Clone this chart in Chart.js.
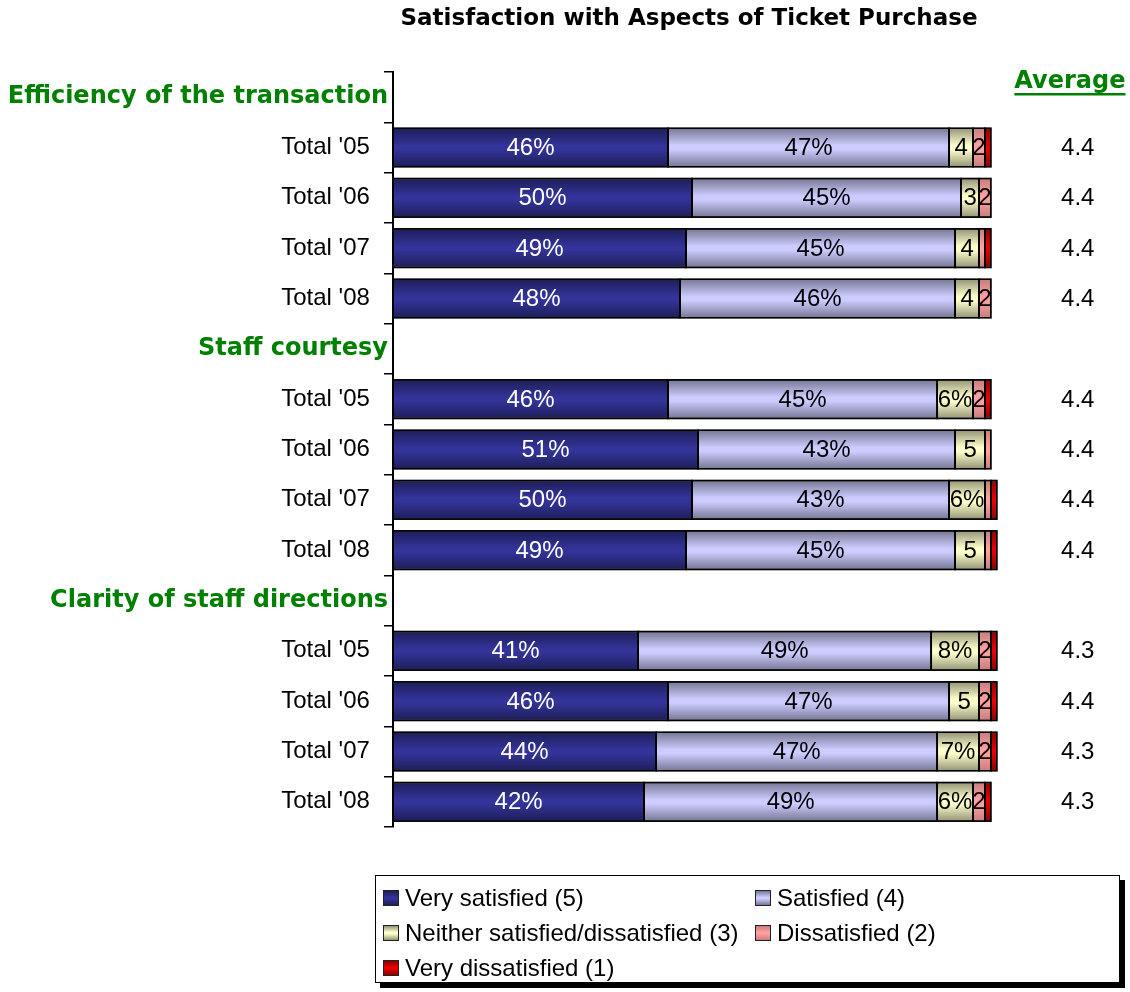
<!DOCTYPE html>
<html><head><meta charset="utf-8">
<script src="https://cdn.jsdelivr.net/npm/chart.js@4/dist/chart.umd.min.js"></script>
<style>
body{margin:0;background:#fff}
#wrap{position:relative;width:1130px;height:992px}
#legend{position:absolute;left:375px;top:875px;width:745px;height:108px;border:1px solid #000;box-shadow:5px 5px 0 #000;background:#fff;
  display:grid;grid-template-columns:372px auto;grid-auto-rows:35px;padding-top:4px;box-sizing:border-box;font-family:"Liberation Sans",Arial,sans-serif;font-size:24px;color:#000}
#legend .it{display:flex;align-items:center;padding-left:7px;white-space:nowrap}
#legend .sw{width:14px;height:14px;border:1px solid #222;margin-right:6px;flex:none}
</style>
</head><body>
<div id="wrap"><canvas id="c" width="1130" height="992"></canvas><div id="legend"></div></div>
<script>
const chartTitle = "Satisfaction with Aspects of Ticket Purchase";
const averageHeader = "Average";
const categories = ["Efficiency of the transaction","Total '05","Total '06","Total '07","Total '08",
  "Staff courtesy","Total '05","Total '06","Total '07","Total '08",
  "Clarity of staff directions","Total '05","Total '06","Total '07","Total '08"];
const headerRows = [0,5,10];
const seriesNames = ["Very satisfied (5)","Satisfied (4)","Neither satisfied/dissatisfied (3)","Dissatisfied (2)","Very dissatisfied (1)"];
const verySatisfied    = [null,46,50,49,48,null,46,51,50,49,null,41,46,44,42];
const satisfied        = [null,47,45,45,46,null,45,43,43,45,null,49,47,47,49];
const neither          = [null,4,3,4,4,null,6,5,6,5,null,8,5,7,6];
const dissatisfied     = [null,2,2,1,2,null,2,1,1,1,null,2,2,2,2];
const veryDissatisfied = [null,1,0,1,0,null,1,0,1,1,null,1,1,1,1];
const averages = [null,"4.4","4.4","4.4","4.4",null,"4.4","4.4","4.4","4.4",null,"4.3","4.4","4.3","4.3"];

const seriesColors = ["#333399","#ccccff","#ffffcc","#ffa0a0","#e80000"];
const edgeShade = [0.42,0.42,0.42,0.22,0.4];
const labelColors = ["#ffffff","#000000","#000000","#000000","#000000"];
const seriesData = [verySatisfied,satisfied,neither,dissatisfied,veryDissatisfied];

const FONT_REG = '"Liberation Sans", Arial, sans-serif';
const FONT_BOLD = '"DejaVu Sans", Verdana, sans-serif';

const decorPlugin = {
  id:'decor',
  afterDatasetsDraw(chart){
    const ctx = chart.ctx;
    chart.data.datasets.forEach((ds,di)=>{
      const meta = chart.getDatasetMeta(di);
      const a = edgeShade[di];
      meta.data.forEach((el,i)=>{
        const v = ds.data[i];
        if(v==null || v===0) return;
        const p = el.getProps(['x','y','base','height'],true);
        const top = p.y - p.height/2, bot = p.y + p.height/2;
        const l = Math.min(p.x,p.base), r = Math.max(p.x,p.base);
        const g = ctx.createLinearGradient(0,top,0,bot);
        g.addColorStop(0,'rgba(0,0,0,'+a+')');
        g.addColorStop(0.45,'rgba(0,0,0,0)');
        g.addColorStop(0.55,'rgba(0,0,0,0)');
        g.addColorStop(1,'rgba(0,0,0,'+a+')');
        ctx.save();
        ctx.fillStyle = g;
        ctx.fillRect(l,top,r-l,bot-top);
        ctx.strokeStyle='#000'; ctx.lineWidth=1.5;
        ctx.strokeRect(l,top,r-l,bot-top);
        ctx.restore();
      });
    });
    ctx.save();
    ctx.font = '24px '+FONT_REG;
    ctx.textAlign='center'; ctx.textBaseline='middle';
    chart.data.datasets.forEach((ds,di)=>{
      const meta = chart.getDatasetMeta(di);
      meta.data.forEach((el,i)=>{
        const v = ds.data[i];
        if(v==null || v<2) return;
        const p = el.getProps(['x','y','base'],true);
        const txt = v>=6 ? v+'%' : String(v);
        ctx.fillStyle = labelColors[di];
        ctx.fillText(txt,(p.x+p.base)/2,p.y+1);
      });
    });
    ctx.restore();
  },
  afterDraw(chart){
    const ctx = chart.ctx, xs = chart.scales.x, ys = chart.scales.y;
    ctx.save();
    ctx.font = 'bold 23px '+FONT_BOLD;
    ctx.fillStyle='#000'; ctx.textAlign='center'; ctx.textBaseline='middle';
    ctx.fillText(chartTitle, xs.getPixelForValue(49.5), 19);
    ctx.font = 'bold 24px '+FONT_BOLD;
    ctx.fillStyle='#008000';
    const hx = xs.getPixelForValue(113.2), hy = ys.top + 10;
    ctx.fillText(averageHeader, hx, hy);
    const w = ctx.measureText(averageHeader).width;
    ctx.fillRect(hx-w/2, hy+11, w, 2.5);
    ctx.font = '24px '+FONT_REG;
    ctx.fillStyle='#000';
    averages.forEach((a,i)=>{
      if(a==null) return;
      ctx.fillText(a, xs.getPixelForValue(114.5), ys.getPixelForValue(i)+1);
    });
    ctx.restore();
  }
};

const chart = new Chart(document.getElementById('c'),{
  type:'bar',
  data:{
    labels:categories,
    datasets: seriesNames.map((n,i)=>({
      label:n, data:seriesData[i], backgroundColor:seriesColors[i],
      borderColor:'#000', borderWidth:1, borderSkipped:false,
      barPercentage:0.77, categoryPercentage:1
    }))
  },
  options:{
    indexAxis:'y',
    responsive:false,
    animation:false,
    layout:{padding:{top:72,bottom:165,left:0,right:19.4}},
    plugins:{legend:{display:false},tooltip:{enabled:false},title:{display:false}},
    scales:{
      x:{stacked:true,display:false,min:0,max:120},
      y:{stacked:true,offset:true,
        grid:{offset:true,drawOnChartArea:false,drawTicks:true,tickLength:9,color:'#000',lineWidth:1.5},
        border:{display:true,color:'#000',width:2},
        ticks:{autoSkip:false,padding:-4,
          callback:(v,i)=> headerRows.includes(i) ? categories[i] : categories[i]+'  \u2009',
          font:(c)=> headerRows.includes(c.index) ? {family:FONT_BOLD,size:24,weight:'bold'} : {family:FONT_REG,size:24},
          color:(c)=> headerRows.includes(c.index) ? '#008000' : '#000'
        },
        afterFit:(s)=>{ s.width = 393; }
      }
    }
  },
  plugins:[decorPlugin]
});

const lg = document.getElementById('legend');
chart.data.datasets.forEach((ds,i)=>{
  const it = document.createElement('div'); it.className='it';
  const sw = document.createElement('span'); sw.className='sw';
  const a = edgeShade[i];
  sw.style.background = `linear-gradient(to bottom, rgba(0,0,0,${a}), rgba(0,0,0,0) 45%, rgba(0,0,0,0) 55%, rgba(0,0,0,${a})), ${ds.backgroundColor}`;
  const tx = document.createElement('span'); tx.textContent = ds.label;
  it.appendChild(sw); it.appendChild(tx); lg.appendChild(it);
});
</script>
</body></html>
